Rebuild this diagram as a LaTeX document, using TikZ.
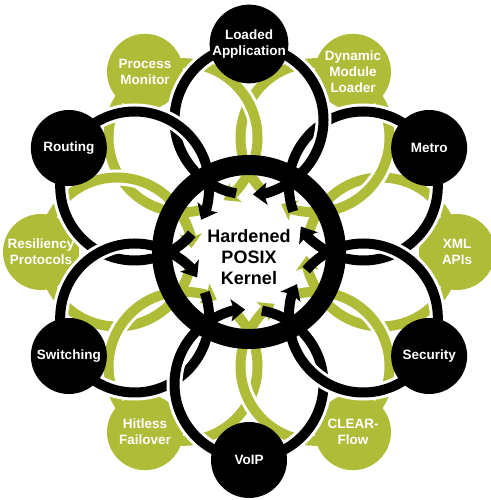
\documentclass[tikz,border=0pt]{standalone}
\usepackage{fontspec}
\setmainfont{Liberation Sans}
\usetikzlibrary{arrows.meta}

\definecolor{leaf}{RGB}{175,188,56}

\tikzset{
  blob/.style={circle, minimum size=76pt, inner sep=0pt, text=white,
    align=center, font=\bfseries\fontsize{13.5}{16}\selectfont},
  ringline/.style={line width=10pt, preaction={draw=white, line width=16pt}},
  headed/.style={line width=10pt, -{Stealth[length=14pt,width=22pt,inset=3pt]}},
  flat/.style={line width=10pt},
}

\begin{document}
\begin{tikzpicture}[x=1pt,y=1pt]
\useasboundingbox (0,0) rectangle (490,500);
\coordinate (hub) at (249,248);

% green loops and their discs
\foreach \a in {0,60,...,300}
  \draw[ringline, leaf] (hub) ++(\a:132pt) circle[radius=74.5pt];
\foreach \a/\name/\txt in {0/xmlapi/{XML\\APIs}, 60/dynload/{Dynamic\\Module\\Loader},
    120/procmon/{Process\\Monitor}, 180/resil/{Resiliency\\Protocols},
    240/hitless/{Hitless\\Failover}, 300/clearflow/{CLEAR-\\Flow}}
  \path (hub) ++(\a:208pt) node[blob, fill=leaf] (\name) {\txt};

% black loops
\foreach \a in {30,90,...,330}
  \draw[ringline] (hub) ++(\a:132pt) circle[radius=74.5pt];

% hole in the middle, with the loose ends
\fill[white] (hub) circle[radius=78pt];
\foreach \a/\c in {0/leaf,60/leaf,120/leaf,180/leaf,240/leaf,300/leaf,
    30/black,90/black,150/black,210/black,270/black,330/black}{
  \draw[headed, \c] (hub) ++(\a:132pt) ++(\a+214:74.5pt)
    arc[start angle=\a+214, end angle=\a+183, radius=74.5pt];
  \draw[flat, \c] (hub) ++(\a:132pt) ++(\a+144:74.5pt)
    arc[start angle=\a+144, end angle=\a+170, radius=74.5pt];
}

% kernel ring
\draw[line width=20pt] (hub) circle[radius=87pt];

\foreach \a/\name/\txt in {90/loadapp/{Loaded\\Application}, 30/metro/Metro,
    330/security/Security, 270/voip/VoIP, 210/switching/Switching, 150/routing/Routing}
  \path (hub) ++(\a:208pt) node[blob, fill=black] (\name) {\txt};

\node[font=\bfseries\fontsize{18}{21}\selectfont, align=center] (kernel)
  at ([yshift=-5pt]hub) {Hardened\\POSIX\\Kernel};
\end{tikzpicture}
\end{document}
